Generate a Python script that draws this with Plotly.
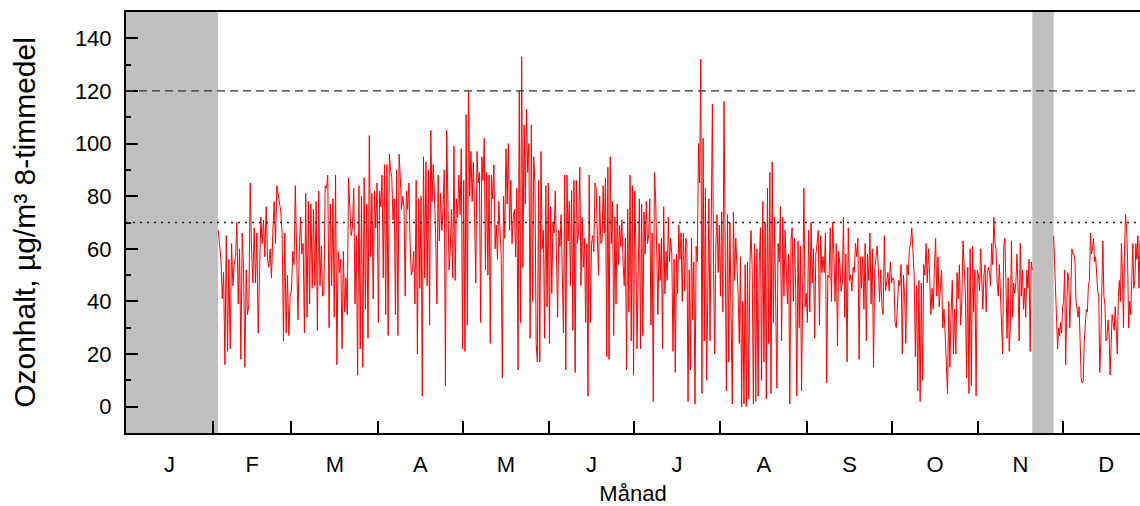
import numpy as np
import plotly.graph_objects as go

# ---------------- data (8-hour mean ozone, µg/m³) ----------------
feb = [67, 60, 56, 41, 51, 16, 65, 21, 56, 22, 62, 46, 54, 57, 70, 39, 60, 18, 66, 52, 15, 52, 35, 39, 85,
       60, 47, 68, 47, 66, 28, 50, 72, 62, 71, 57, 76, 56, 53, 60, 49, 66, 78, 62, 84, 81, 78, 74, 66, 25,
       66, 28, 50, 27, 42]
mar = [44, 59, 54, 84, 57, 33, 58, 72, 58, 62, 28,
       81, 34, 78, 39, 77, 45, 75, 46, 78, 29, 82, 46, 61, 42, 43, 84, 83, 88, 30, 77, 46, 79, 34, 88, 16,
       59, 51, 56, 22, 59, 36, 49, 35, 87, 72, 65, 68, 83, 39, 65, 12, 84, 22, 80, 15, 87, 37, 77, 26, 103,
       57, 81, 41, 82, 68, 85]
apr = [32, 82, 76, 88, 49, 92, 35, 92, 27, 96, 90, 87, 71, 79,
       35, 90, 27, 96, 87, 75, 80, 76, 42, 82, 75, 85, 62, 50, 52, 59, 39, 86, 20, 79, 45, 80, 4, 95, 49,
       93, 46, 90, 31, 105, 78, 92, 80, 65, 39, 88, 63, 81, 67, 75, 90, 8, 105, 78, 52, 60, 75, 49, 99, 48,
       79, 72, 88, 73, 98]
may = [22, 86, 21, 111, 31, 120, 80, 97, 78, 93, 72, 47, 97, 85, 89, 32, 95, 86, 102,
       52, 89, 50, 88, 24, 88, 79, 92, 60, 69, 56, 78, 68, 58, 11, 80, 64, 98, 77, 100, 67, 86, 62, 72, 75,
       57, 83, 14, 120, 32, 133, 53, 107, 77, 113, 89, 100, 26, 107, 40, 95, 85, 24, 17, 86, 17, 97, 60, 67,
       26, 84, 38, 85]
jun = [24, 76, 43, 70, 66, 82, 58, 34, 67, 61, 73, 47, 28, 88, 14, 88, 63, 78, 46, 82,
       29, 86, 13, 86, 62, 67, 91, 46, 72, 53, 64, 32, 62, 4, 88, 32, 62, 65, 59, 85, 83, 65, 50, 80, 62,
       63, 84, 66, 87, 19, 91, 18, 95, 62, 78, 27, 72, 39, 77, 54, 69, 61, 71, 55, 46, 64, 14, 75, 36, 88,
       25, 84]
jul = [12, 82, 60, 22, 55, 79, 22, 77, 27, 74, 58, 78, 62, 65, 79, 31, 66, 2, 89, 80, 59, 35, 62, 48, 64, 22,
       76, 43, 59, 48, 72, 55, 64, 58, 21, 56, 13, 58, 43, 69, 56, 66, 40, 66, 44, 64, 62, 2, 52, 14, 64,
       33, 55, 1, 61, 55, 100, 85, 132, 5, 102, 25, 83, 10, 40, 79, 25, 61, 115, 53, 20, 62, 73, 51, 69]
aug = [42, 74, 36, 116, 60, 6, 73, 17, 70, 40, 1, 74, 48, 64, 54, 43, 24, 57, 0, 40, 1, 54, 0, 55, 3, 54, 67,
       52, 1, 62, 2, 60, 4, 55, 68, 10, 78, 17, 70, 3, 83, 24, 89, 5, 93, 32, 72, 28, 7, 62, 55, 76, 25, 72,
       42, 67, 53, 39, 58, 1, 63, 68, 40, 64, 45, 4, 63, 30, 61, 6, 45, 83, 38, 43]
sep = [32, 67, 36, 70, 47, 60, 26, 58, 62, 67, 31, 65, 51, 57, 51, 66, 9, 50, 49, 68, 40, 70, 58, 40, 62, 23,
       59, 54, 44, 47,
       72, 34, 58, 17, 68, 48, 50, 44, 53, 51, 62, 57, 64, 18, 57, 45, 57, 37, 62, 25, 58, 48, 66, 39, 60,
       15, 52, 58, 61, 53, 40, 52, 38, 35, 65, 44, 47, 51, 44, 55]
octo = [47, 49, 48, 32, 30, 40, 48, 46, 54, 20, 50, 42, 24, 54, 50, 60, 62, 68, 61, 50, 19, 46, 6, 48, 2, 47,
        10, 54, 50, 62, 47, 60, 50, 35, 45, 37,
        52, 64, 42, 57, 38, 48, 52, 30, 37, 28, 14, 5, 40, 15, 36, 48, 20, 37, 20, 51, 41, 54, 31, 40, 63,
        55, 43, 11, 53, 5, 60, 8, 61, 36, 52, 4, 52]
nov_a = [50, 44, 60, 47, 37, 50, 54, 36, 50, 53, 51, 46, 62, 54, 72, 62, 60, 47, 42, 54, 40, 30, 20, 61, 64,
         47, 26, 49, 21, 31, 63, 34, 47, 43, 47, 58, 46, 25,
         62, 42, 52, 37, 45, 34, 52, 45, 56, 21, 55, 52]
nov_b = [65, 53, 43, 32, 22, 30, 27, 32, 28]
dec = [38, 40, 52, 16, 38, 51, 48, 30, 45, 60, 58, 58, 55, 40, 37, 34, 38, 26, 11, 9, 10, 25, 33, 37, 36, 46,
       48, 66, 58, 60, 64, 55, 57, 49, 44, 42, 13, 24, 47, 63, 42, 39, 25, 26, 33, 28, 12, 30, 35, 32, 29,
       38, 28, 20, 42, 48, 40, 62, 50, 30, 60, 73, 68, 55, 30, 40, 35, 50, 62, 45, 48, 62, 56, 65, 45, 63]

# period (day of year) covered by each block of values
segments = [(feb, 32.9, 59), (mar, 59, 90), (apr, 90, 120), (may, 120, 151), (jun, 151, 181),
            (jul, 181, 212), (aug, 212, 243), (sep, 243, 273), (octo, 273, 304), (nov_a, 304, 323.2),
            (nov_b, 330.8, 334), (dec, 334, 361.6)]

missing_periods = [(0, 32.8), (323.2, 330.8)]   # no data (grey)
limit_target = 120     # dashed
limit_other = 70       # dotted

month_starts = [31, 59, 90, 120, 151, 181, 212, 243, 273, 304, 334]
month_mid = [15.5, 45, 74.5, 105, 135.5, 166, 196.5, 227.5, 258, 288.5, 319, 349.5]
month_labels = ["J", "F", "M", "A", "M", "J", "J", "A", "S", "O", "N", "D"]

# ---------------- build series ----------------
xs, ys = [], []
for vals, a, b in segments:
    last = (vals is nov_a) or (vals is dec)
    t = np.linspace(a, b, len(vals), endpoint=last)
    xs.extend(t.tolist())
    ys.extend(vals)
    if vals is nov_a:
        xs.append(None)
        ys.append(None)

FONT = "Liberation Sans, Arial, sans-serif"

fig = go.Figure()
fig.add_trace(go.Scatter(x=xs, y=ys, mode="lines", line=dict(color="#ff0000", width=1),
                         hoverinfo="skip", showlegend=False))

for a, b in missing_periods:
    fig.add_shape(type="rect", xref="x", yref="y", x0=a, x1=b, y0=-10, y1=150,
                  fillcolor="#c0c0c0", line=dict(width=0), layer="below")

fig.add_shape(type="line", xref="paper", yref="y", x0=0, x1=1, y0=limit_target, y1=limit_target,
              line=dict(color="#333333", width=1.2, dash="8px,5px"))
fig.add_shape(type="line", xref="paper", yref="y", x0=0, x1=1, y0=limit_other, y1=limit_other,
              line=dict(color="#222222", width=1.4, dash="2px,5px"))

fig.update_layout(
    width=1140, height=506,
    margin=dict(l=126, r=0, t=12, b=71),
    paper_bgcolor="white", plot_bgcolor="white",
    font=dict(family=FONT, color="black"),
)
fig.update_xaxes(
    range=[0, 361.6], showgrid=False, zeroline=False,
    showline=True, linecolor="black", linewidth=2, mirror=True,
    tickmode="array", tickvals=month_mid, ticktext=month_labels, ticks="",
    tickfont=dict(size=22), ticklabelstandoff=11,
    minor=dict(tickmode="array", tickvals=month_starts, ticks="inside", ticklen=12,
               tickwidth=2, tickcolor="black", showgrid=False),
    title=dict(text="Månad", font=dict(size=22), standoff=13),
)
fig.update_yaxes(
    range=[-10, 150], showgrid=False, zeroline=False,
    showline=True, linecolor="black", linewidth=2, mirror=False,
    tickmode="linear", tick0=0, dtick=20, ticks="inside", ticklen=12, tickwidth=2, tickcolor="black",
    tickfont=dict(size=22), ticklabelstandoff=8,
    minor=dict(dtick=10, ticks="inside", ticklen=5, tickwidth=2, tickcolor="black", showgrid=False),
    title=dict(text="Ozonhalt, µg/m³ 8-timmedel", font=dict(size=30), standoff=30),
)

fig.write_html("out.html", config={"displayModeBar": False},
               post_script="document.body.style.margin='0';document.body.style.overflow='hidden';")
